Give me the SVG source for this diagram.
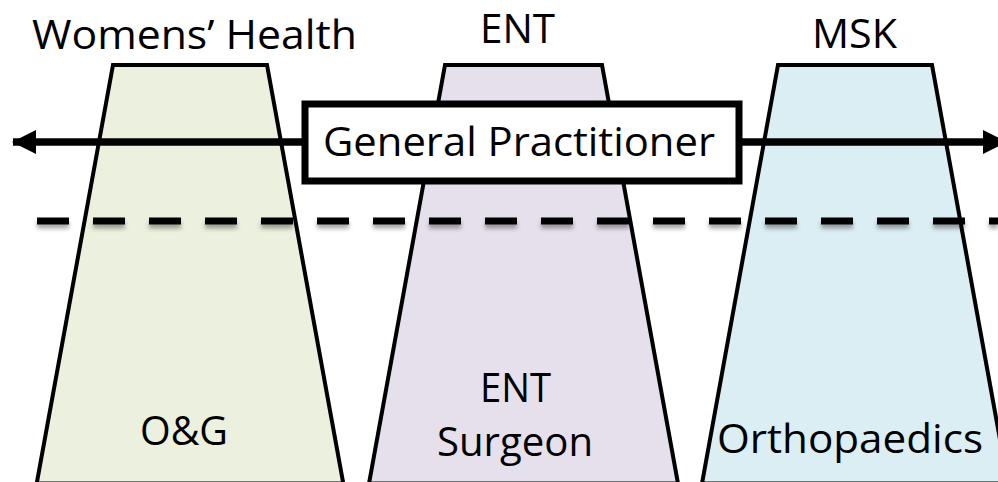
<svg xmlns="http://www.w3.org/2000/svg" width="998" height="482" viewBox="0 0 998 482">
  <style>
    .trap { stroke: #000; stroke-width: 4; stroke-linejoin: miter; }
    .lbl { font-family: "Open Sans", "Noto Sans", "Liberation Sans", sans-serif; font-size: 40px; fill: #000; }
    .gp { font-family: "Open Sans", "Noto Sans", "Liberation Sans", sans-serif; font-size: 41px; fill: #000; }
  </style>
  <defs>
    <marker id="ah" markerUnits="userSpaceOnUse" markerWidth="24" markerHeight="26" refX="23" refY="12" orient="auto-start-reverse">
      <path d="M0,0 L24,12 L0,24 Z" fill="#000"/>
    </marker>
    <filter id="sh" filterUnits="userSpaceOnUse" x="0" y="200" width="998" height="45">
      <feDropShadow dx="0" dy="4" stdDeviation="2.2" flood-color="#000" flood-opacity="0.35"/>
    </filter>
  </defs>
  <rect width="998" height="482" fill="#fff"/>

  <g id="womens-health">
    <polygon class="trap" fill="#EBF1DE" points="113,65 267,65 343.3,483.5 36.7,483.5"/>
    <text class="lbl" x="32" y="49" textLength="325" lengthAdjust="spacingAndGlyphs">Womens’ Health</text>
    <text class="lbl" x="140" y="445" textLength="88" lengthAdjust="spacingAndGlyphs">O&amp;G</text>
  </g>

  <g id="ent">
    <polygon class="trap" fill="#E5E0EC" points="445,65 602,65 678,483.5 369,483.5"/>
    <text class="lbl" x="480" y="43" textLength="75" lengthAdjust="spacingAndGlyphs">ENT</text>
    <text class="lbl" x="480" y="402" textLength="71" lengthAdjust="spacingAndGlyphs">ENT</text>
    <text class="lbl" x="437" y="456" textLength="156" lengthAdjust="spacingAndGlyphs">Surgeon</text>
  </g>

  <g id="msk">
    <polygon class="trap" fill="#DBEEF4" points="778,65 932,65 1008,483.5 702,483.5"/>
    <text class="lbl" x="812" y="48" textLength="85" lengthAdjust="spacingAndGlyphs">MSK</text>
    <text class="lbl" x="717" y="453" textLength="266" lengthAdjust="spacingAndGlyphs">Orthopaedics</text>
  </g>

  <g id="connectors">
    <line x1="13" y1="142" x2="1006" y2="142" stroke="#000" stroke-width="7.5" marker-start="url(#ah)" marker-end="url(#ah)"/>
    <line x1="37" y1="221" x2="998" y2="221" stroke="#000" stroke-width="7" stroke-dasharray="32 24" filter="url(#sh)"/>
  </g>

  <g id="general-practitioner">
    <rect x="305" y="104" width="434" height="77" fill="#fff" stroke="#000" stroke-width="7"/>
    <text class="gp" x="323" y="156" textLength="392" lengthAdjust="spacingAndGlyphs">General Practitioner</text>
  </g>
</svg>
